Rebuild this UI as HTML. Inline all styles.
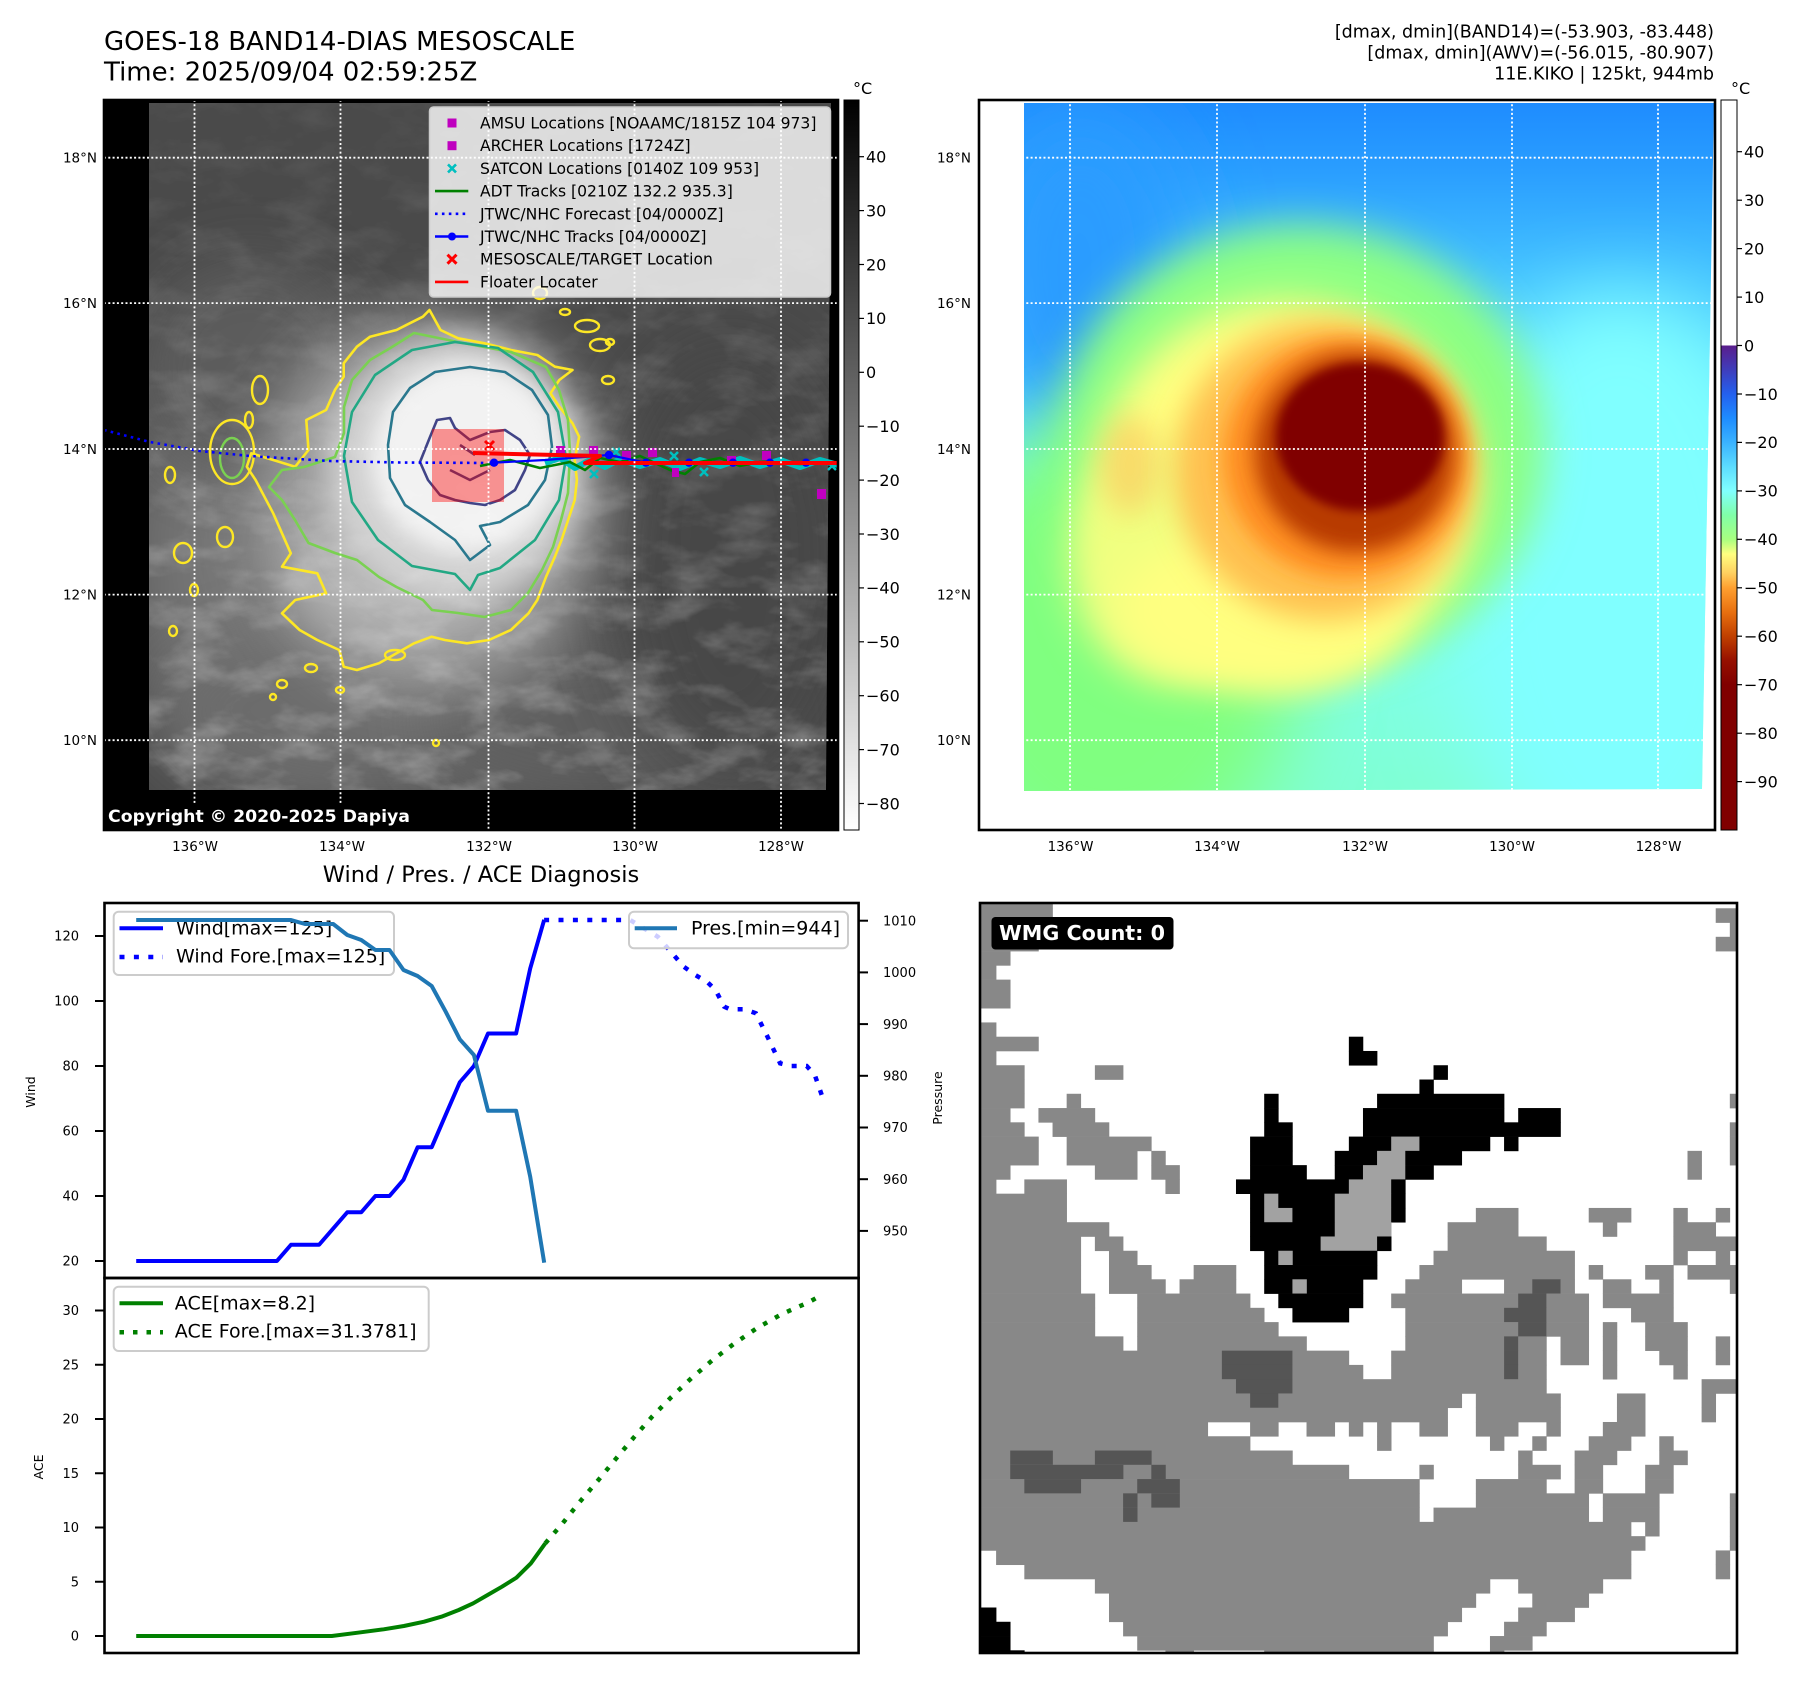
<!DOCTYPE html>
<html><head><meta charset="utf-8">
<style>
html,body{margin:0;padding:0;background:#fff;}
svg{display:block;font-family:"DejaVu Sans","Liberation Sans",sans-serif;}
</style></head><body>
<svg id="s" width="1797" height="1690" viewBox="0 0 1797 1690" xmlns="http://www.w3.org/2000/svg">
<defs>
 <clipPath id="cL"><polygon points="149,103 831,103 826,790 149,790"/></clipPath>
 <clipPath id="cLF"><rect x="104" y="100" width="734" height="730"/></clipPath>
 <clipPath id="cR"><polygon points="1024,103 1714,103 1702,789 1024,791"/></clipPath>
 <clipPath id="cG"><rect x="980" y="903" width="757" height="750"/></clipPath>
 <filter id="b5" x="-1" y="-1" width="3" height="3"><feGaussianBlur stdDeviation="5"/></filter>
 <filter id="b10" x="-1" y="-1" width="3" height="3"><feGaussianBlur stdDeviation="10"/></filter>
 <filter id="b15" x="-1" y="-1" width="3" height="3"><feGaussianBlur stdDeviation="15"/></filter>
 <filter id="b20" x="-1" y="-1" width="3" height="3"><feGaussianBlur stdDeviation="20"/></filter>
 <filter id="b25" x="-1" y="-1" width="3" height="3"><feGaussianBlur stdDeviation="25"/></filter>
 <filter id="b30" x="-1" y="-1" width="3" height="3"><feGaussianBlur stdDeviation="30"/></filter>
 <filter id="b40" x="-1" y="-1" width="3" height="3"><feGaussianBlur stdDeviation="40"/></filter>
 <filter id="tex" x="0" y="0" width="1" height="1">
  <feTurbulence type="fractalNoise" baseFrequency="0.018 0.035" numOctaves="4" seed="7"/>
  <feColorMatrix type="matrix" values="0 0 0 0 1  0 0 0 0 1  0 0 0 0 1  2.2 0 0 0 -0.95"/>
 </filter>
 <linearGradient id="gm" x1="0" y1="0" x2="0" y2="1">
  <stop offset="0" stop-color="#333"/><stop offset="0.35" stop-color="#666"/><stop offset="1" stop-color="#fff"/>
 </linearGradient>
 <mask id="mT" maskUnits="userSpaceOnUse" x="149" y="103" width="682" height="687">
  <rect x="149" y="103" width="682" height="687" fill="url(#gm)"/>
 </mask>
 <linearGradient id="gcL" x1="0" y1="0" x2="0" y2="1">
  <stop offset="0" stop-color="#000"/><stop offset="1" stop-color="#fff"/>
 </linearGradient>
 <linearGradient id="gcR" x1="0" y1="0" x2="0" y2="1">
  <stop offset="0" stop-color="#fff"/><stop offset="0.336" stop-color="#fff"/>
  <stop offset="0.3365" stop-color="#5a1e8c"/>
  <stop offset="0.3695" stop-color="#3f3dbb"/>
  <stop offset="0.4027" stop-color="#2460ee"/>
  <stop offset="0.4359" stop-color="#1e8cff"/>
  <stop offset="0.469" stop-color="#3ab2ff"/>
  <stop offset="0.5023" stop-color="#5cdcff"/>
  <stop offset="0.5355" stop-color="#80ffff"/>
  <stop offset="0.5685" stop-color="#80ffa8"/>
  <stop offset="0.6018" stop-color="#a8ff80"/>
  <stop offset="0.6219" stop-color="#ffff80"/>
  <stop offset="0.6479" stop-color="#ffd060"/>
  <stop offset="0.6682" stop-color="#ffa030"/>
  <stop offset="0.7014" stop-color="#e87010"/>
  <stop offset="0.7345" stop-color="#c04000"/>
  <stop offset="0.7678" stop-color="#961000"/>
  <stop offset="0.801" stop-color="#800000"/>
  <stop offset="1" stop-color="#800000"/>
 </linearGradient>
 <linearGradient id="gR" gradientUnits="userSpaceOnUse" x1="0" y1="103" x2="0" y2="791">
  <stop offset="0" stop-color="#1e8cff"/>
  <stop offset="0.1" stop-color="#2a9eff"/>
  <stop offset="0.25" stop-color="#44c2ff"/>
  <stop offset="0.45" stop-color="#6aeaff"/>
  <stop offset="0.7" stop-color="#7ffff0"/>
  <stop offset="1" stop-color="#80ffd4"/>
 </linearGradient>
</defs>

<!-- ===== Titles ===== -->
<text x="104" y="50" font-size="26" fill="#000">GOES-18 BAND14-DIAS MESOSCALE</text>
<text x="104" y="80.5" font-size="26" fill="#000">Time: 2025/09/04 02:59:25Z</text>
<g font-size="17.5" text-anchor="end" fill="#000">
 <text x="1714" y="37.5">[dmax, dmin](BAND14)=(-53.903, -83.448)</text>
 <text x="1714" y="58.5">[dmax, dmin](AWV)=(-56.015, -80.907)</text>
 <text x="1714" y="79.5">11E.KIKO | 125kt, 944mb</text>
</g>

<!-- ===== Top-left map ===== -->
<rect x="104" y="100" width="734" height="730" fill="#000"/>
<g clip-path="url(#cL)">
 <rect x="149" y="103" width="682" height="687" fill="#4a4a4a"/>
 <ellipse cx="290" cy="560" rx="170" ry="230" fill="#747474" filter="url(#b40)"/>
 <ellipse cx="250" cy="370" rx="110" ry="110" fill="#5c5c5c" filter="url(#b30)"/>
 <ellipse cx="390" cy="710" rx="230" ry="90" fill="#6c6c6c" filter="url(#b30)"/>
 <ellipse cx="600" cy="720" rx="180" ry="80" fill="#5e5e5e" filter="url(#b30)"/>
 <ellipse cx="730" cy="560" rx="120" ry="220" fill="#474747" filter="url(#b40)"/>
 <ellipse cx="430" cy="505" rx="175" ry="190" fill="#9c9c9c" filter="url(#b30)"/>
 <ellipse cx="395" cy="565" rx="95" ry="75" fill="#b4b4b4" filter="url(#b25)"/>
 <ellipse cx="455" cy="470" rx="128" ry="132" fill="#d2d2d2" filter="url(#b15)"/>
 <ellipse cx="466" cy="458" rx="95" ry="95" fill="#f2f2f2" filter="url(#b10)"/>
 <g mask="url(#mT)">
  <rect x="149" y="103" width="682" height="687" filter="url(#tex)" opacity="0.3"/>
 </g>
</g>
<g clip-path="url(#cLF)" fill="none" stroke-linejoin="round">
 <!-- contours -->
 <path stroke="#fde725" stroke-width="2.6" d="M429.5,310 L440.5,330 L458.1,338.3 L484.5,343.3 L510.9,350 L537.3,355 L554.9,366.7 L572.5,370 L559.3,380 L550.5,393.3 L559.3,406.7 L572.5,423.3 L579.1,436.7 L574.7,460 L576.9,480 L574.7,500 L568.1,520 L561.5,540 L554.9,556.7 L546.1,576.7 L537.3,600 L528.5,613.3 L510.9,630 L488.9,640 L466.9,643.3 L444.9,640 L431.7,636.7 L414.1,643.3 L396.5,653.3 L378.9,663.3 L356.9,670 L343.7,666.7 L339.3,650 L317.3,640 L299.6,630 L282,613.3 L295.2,600 L326.1,593.3 L317.3,573.3 L282,566.7 L290.8,553.3 L282,533.3 L273.2,513.3 L264.4,496.7 L255.6,480 L246.8,466.7 L251.2,453.3 L273.2,460 L295.2,466.7 L308.5,450 L306.3,420 L326.1,410 L334.9,390 L343.7,376.7 L343.7,363.3 L356.9,346.7 L370.1,336.7 L396.5,330 L409.7,323.3 L422.9,316.7 Z"/>
 <path stroke="#7ad151" stroke-width="2.6" d="M414,333 L458,342 L511,352 L546,367 L559,390 L568,420 L570,453 L568,493 L561,520 L553,547 L542,570 L528,593 L511,610 L484.5,617 L458,613 L432,610 L423,600 L396.5,587 L379,577 L357,560 L335,553 L308.5,543 L295,520 L282,500 L269,487 L282,470 L304,467 L335,457 L344,433 L344,407 L352,380 L370,360 L392,347 Z"/>
 <path stroke="#22a884" stroke-width="2.6" d="M566,458 L559,500 L535,540 L500,568 L478,575 L470,590 L455,574 L412,566 L378,540 L352,502 L344,456 L352,412 L375,375 L412,350 L455,342 L498,348 L533,372 L558,412 Z"/>
 <path stroke="#2a788e" stroke-width="2.6" d="M552,447 L545,480 L528,505 L500,522 L480,526 L490,545 L470,560 L455,540 L430,522 L405,505 L390,478 L388,445 L393,412 L410,388 L435,372 L470,367 L505,372 L532,390 L548,415 Z"/>
 <path stroke="#414487" stroke-width="2.6" d="M430,437 L437,420 L450,418 L455,428 L470,440 L490,432 L505,430 L520,440 L530,455 L525,470 L515,490 L500,500 L485,505 L470,503 L455,500 L440,495 L428,480 L420,462 Z M450,470 L470,480 L490,470 M460,445 L475,455"/>
 <g stroke="#fde725" stroke-width="2.4">
  <ellipse cx="232" cy="452" rx="22" ry="32"/>
  <ellipse cx="260" cy="390" rx="8" ry="14"/>
  <ellipse cx="249" cy="420" rx="4" ry="8"/>
  <ellipse cx="183" cy="553" rx="9" ry="10"/>
  <ellipse cx="225" cy="537" rx="8" ry="10"/>
  <ellipse cx="540" cy="293" rx="7" ry="6"/>
  <ellipse cx="565" cy="312" rx="5" ry="3"/>
  <ellipse cx="587" cy="326" rx="12" ry="6"/>
  <ellipse cx="610" cy="342" rx="4" ry="3"/>
  <ellipse cx="608" cy="380" rx="6" ry="4"/>
  <ellipse cx="173" cy="631" rx="4" ry="5"/>
  <ellipse cx="282" cy="684" rx="5" ry="4"/>
  <ellipse cx="311" cy="668" rx="6" ry="4"/>
  <ellipse cx="273" cy="697" rx="3" ry="3"/>
  <ellipse cx="194" cy="590" rx="4" ry="6"/>
  <ellipse cx="395" cy="655" rx="10" ry="5"/>
  <ellipse cx="340" cy="690" rx="4" ry="3"/>
  <ellipse cx="436" cy="743" rx="3" ry="3"/>
  <ellipse cx="600" cy="345" rx="10" ry="6"/>
  <ellipse cx="170" cy="475" rx="5" ry="8"/>
 </g>
 <ellipse cx="232" cy="458" rx="12" ry="20" stroke="#7ad151" stroke-width="2.4"/>
 <!-- pink rect -->
 <rect x="432" y="429" width="72" height="73" fill="#ff0000" fill-opacity="0.4" stroke="none"/>
 <!-- forecast dotted -->
 <polyline points="104,430 150,442 200,451 250,456 330,461 400,462.5 494,463" stroke="#0000ff" stroke-width="2.6" stroke-dasharray="2.6 4.3"/>
 <!-- cyan satcon band -->
 <polyline points="545,463 560,458 575,468 590,460 605,467 620,459 640,466 660,460 680,468 700,460 720,466 740,459 760,466 780,460 800,467 820,460 838,465" stroke="#00bfbf" stroke-width="6"/>
 <g stroke="#00bfbf" stroke-width="2.5">
  <path d="M590,470 l8,8 m0,-8 l-8,8 M670,452 l8,8 m0,-8 l-8,8 M700,468 l8,8 m0,-8 l-8,8 M612,448 l8,8 m0,-8 l-8,8 M828,462 l8,8 m0,-8 l-8,8"/>
 </g>
 <!-- green ADT -->
 <polyline points="480,466 510,460 540,468 570,462 585,470 600,458 620,462 640,456 670,470 685,474 700,462 720,458 740,466 760,462 800,464 838,463" stroke="#008000" stroke-width="2.6"/>
 <!-- magenta squares -->
 <g fill="#c000c0" stroke="none">
  <rect x="556" y="446" width="9" height="9"/>
  <rect x="589" y="446" width="9" height="9"/>
  <rect x="622" y="451" width="9" height="9"/>
  <rect x="648" y="448" width="9" height="9"/>
  <rect x="672" y="468" width="7" height="9"/>
  <rect x="727" y="456" width="9" height="9"/>
  <rect x="762" y="451" width="9" height="9"/>
  <rect x="817" y="489" width="9" height="10"/>
 </g>
 <!-- blue track -->
 <polyline points="494,462.7 545,460 609,455 646,462.7 838,462.7" stroke="#0000ff" stroke-width="2.2"/>
 <g fill="#0000ff" stroke="none">
  <circle cx="494" cy="462.7" r="4.2"/><circle cx="609" cy="455" r="4.2"/><circle cx="646" cy="462.7" r="4.2"/>
  <circle cx="689" cy="462.7" r="4.2"/><circle cx="733" cy="462.7" r="4.2"/><circle cx="770" cy="462.7" r="4.2"/><circle cx="806" cy="462.7" r="4.2"/>
 </g>
 <!-- red floater -->
 <polyline points="473,453 600,456 585,463 838,463" stroke="#ff0000" stroke-width="4"/>
 <path d="M485,441 l9,9 m0,-9 l-9,9" stroke="#ff0000" stroke-width="3"/>
 <!-- gridlines -->
 <g stroke="#fff" stroke-width="1.8" stroke-dasharray="2 2.3">
  <line x1="104" y1="157.7" x2="838" y2="157.7"/><line x1="104" y1="303.1" x2="838" y2="303.1"/>
  <line x1="104" y1="449" x2="838" y2="449"/><line x1="104" y1="594.6" x2="838" y2="594.6"/>
  <line x1="104" y1="740.2" x2="838" y2="740.2"/>
  <line x1="194.5" y1="100" x2="194.5" y2="830"/><line x1="340.5" y1="100" x2="340.5" y2="830"/>
  <line x1="488.5" y1="100" x2="488.5" y2="830"/><line x1="634.5" y1="100" x2="634.5" y2="830"/>
  <line x1="781" y1="100" x2="781" y2="830"/>
 </g>
</g>
<!-- map legend -->
<rect x="429.5" y="107" width="401" height="190" rx="4" fill="#fff" fill-opacity="0.8" stroke="#cccccc" stroke-width="1.5"/>
<rect x="447.5" y="118.5" width="9" height="9" fill="#bf00bf"/>
<rect x="447.5" y="141.2" width="9" height="9" fill="#bf00bf"/>
<path d="M448,164.4 l8,8 m0,-8 l-8,8" stroke="#00bfbf" stroke-width="2.6" fill="none"/>
<line x1="435" y1="191.1" x2="468.3" y2="191.1" stroke="#008000" stroke-width="2.6"/>
<line x1="435" y1="213.8" x2="468.3" y2="213.8" stroke="#0000ff" stroke-width="2.6" stroke-dasharray="2.6 4.3"/>
<line x1="435" y1="236.5" x2="468.3" y2="236.5" stroke="#0000ff" stroke-width="2.6"/>
<circle cx="452" cy="236.5" r="4" fill="#0000ff"/>
<path d="M447.5,254.7 l9,9 m0,-9 l-9,9" stroke="#ff0000" stroke-width="3" fill="none"/>
<line x1="435" y1="281.9" x2="468.3" y2="281.9" stroke="#ff0000" stroke-width="2.6"/>
<g font-size="15.6" fill="#000">
 <text x="480" y="128.5">AMSU Locations [NOAAMC/1815Z 104 973]</text>
 <text x="480" y="151.2">ARCHER Locations [1724Z]</text>
 <text x="480" y="173.9">SATCON Locations [0140Z 109 953]</text>
 <text x="480" y="196.6">ADT Tracks [0210Z 132.2 935.3]</text>
 <text x="480" y="219.3">JTWC/NHC Forecast [04/0000Z]</text>
 <text x="480" y="242">JTWC/NHC Tracks [04/0000Z]</text>
 <text x="480" y="264.7">MESOSCALE/TARGET Location</text>
 <text x="480" y="287.4">Floater Locater</text>
</g>
<!-- copyright -->
<rect x="104" y="805" width="310" height="26" rx="3" fill="#000"/>
<text x="108" y="822" font-size="16.5" font-weight="bold" fill="#fff" textLength="302" lengthAdjust="spacingAndGlyphs">Copyright © 2020-2025 Dapiya</text>
<rect x="104" y="100" width="734" height="730" fill="none" stroke="#000" stroke-width="2.6"/>
<!-- left colorbar -->
<rect x="844" y="100" width="15" height="730" fill="url(#gcL)" stroke="#000" stroke-width="1"/>
<text x="853" y="94" font-size="16">°C</text>
<g stroke="#000" stroke-width="1.2">
 <line x1="859" y1="156.7" x2="864" y2="156.7"/><line x1="859" y1="210.6" x2="864" y2="210.6"/><line x1="859" y1="264.5" x2="864" y2="264.5"/>
 <line x1="859" y1="318.4" x2="864" y2="318.4"/><line x1="859" y1="372.3" x2="864" y2="372.3"/><line x1="859" y1="426.2" x2="864" y2="426.2"/>
 <line x1="859" y1="480.1" x2="864" y2="480.1"/><line x1="859" y1="534" x2="864" y2="534"/><line x1="859" y1="587.9" x2="864" y2="587.9"/>
 <line x1="859" y1="641.8" x2="864" y2="641.8"/><line x1="859" y1="695.7" x2="864" y2="695.7"/><line x1="859" y1="749.6" x2="864" y2="749.6"/>
 <line x1="859" y1="803.5" x2="864" y2="803.5"/>
</g>
<g font-size="16" fill="#000">
 <text x="866" y="162.5">40</text><text x="866" y="216.4">30</text><text x="866" y="270.3">20</text><text x="866" y="324.2">10</text>
 <text x="866" y="378.1">0</text><text x="866" y="432">−10</text><text x="866" y="485.9">−20</text><text x="866" y="539.8">−30</text>
 <text x="866" y="593.7">−40</text><text x="866" y="647.6">−50</text><text x="866" y="701.5">−60</text><text x="866" y="755.4">−70</text>
 <text x="866" y="809.3">−80</text>
</g>
<!-- map tick labels -->
<g font-size="13.5" fill="#000" text-anchor="end">
 <text x="97" y="162.5">18°N</text><text x="97" y="308">16°N</text><text x="97" y="453.8">14°N</text><text x="97" y="599.4">12°N</text><text x="97" y="745">10°N</text>
 <text x="971" y="162.5">18°N</text><text x="971" y="308">16°N</text><text x="971" y="453.8">14°N</text><text x="971" y="599.4">12°N</text><text x="971" y="745">10°N</text>
</g>
<g font-size="13.5" fill="#000" text-anchor="middle">
 <text x="195" y="851">136°W</text><text x="342" y="851">134°W</text><text x="489" y="851">132°W</text><text x="635" y="851">130°W</text><text x="781" y="851">128°W</text>
 <text x="1070.5" y="851">136°W</text><text x="1217" y="851">134°W</text><text x="1365" y="851">132°W</text><text x="1512" y="851">130°W</text><text x="1658.5" y="851">128°W</text>
</g>

<!-- ===== Top-right map ===== -->
<g clip-path="url(#cR)">
 <rect x="1024" y="103" width="691" height="688" fill="url(#gR)"/>
 <ellipse cx="1080" cy="270" rx="110" ry="170" fill="#2a9cff" filter="url(#b40)"/>
 <ellipse cx="1110" cy="650" rx="190" ry="230" fill="#80ff80" filter="url(#b40)"/>
 <ellipse cx="1620" cy="590" rx="170" ry="300" fill="#80ffff" filter="url(#b40)"/>
 <ellipse cx="1300" cy="450" rx="245" ry="225" fill="#8cff84" filter="url(#b20)"/>
 <ellipse cx="1285" cy="490" rx="190" ry="190" fill="#ffff80" filter="url(#b20)"/>
 <ellipse cx="1170" cy="560" rx="100" ry="120" fill="#f0ff80" filter="url(#b20)"/>
 <ellipse cx="1260" cy="610" rx="140" ry="80" fill="#ffff80" filter="url(#b20)"/>
 <ellipse cx="1130" cy="465" rx="30" ry="50" fill="#ffb050" filter="url(#b15)" opacity="0.45"/>
 <ellipse cx="1325" cy="470" rx="150" ry="150" fill="#ffc050" filter="url(#b15)"/>
 <ellipse cx="1345" cy="458" rx="122" ry="120" fill="#ff9020" filter="url(#b10)"/>
 <ellipse cx="1355" cy="452" rx="100" ry="100" fill="#b83a00" filter="url(#b10)"/>
 <ellipse cx="1360" cy="437" rx="84" ry="74" fill="#800000" filter="url(#b5)"/>
 <g stroke="#fff" stroke-width="1.8" stroke-dasharray="2 2.3">
  <line x1="979" y1="157.7" x2="1715" y2="157.7"/><line x1="979" y1="303.1" x2="1715" y2="303.1"/>
  <line x1="979" y1="449" x2="1715" y2="449"/><line x1="979" y1="594.6" x2="1715" y2="594.6"/>
  <line x1="979" y1="740.2" x2="1715" y2="740.2"/>
  <line x1="1070" y1="100" x2="1070" y2="830"/><line x1="1217" y1="100" x2="1217" y2="830"/>
  <line x1="1365" y1="100" x2="1365" y2="830"/><line x1="1512" y1="100" x2="1512" y2="830"/>
  <line x1="1658" y1="100" x2="1658" y2="830"/>
 </g>
</g>
<rect x="979" y="100" width="736" height="730" fill="none" stroke="#000" stroke-width="2.6"/>
<!-- right colorbar -->
<rect x="1721" y="100" width="16" height="730" fill="url(#gcR)" stroke="#000" stroke-width="1"/>
<text x="1731" y="94" font-size="16">°C</text>
<g stroke="#000" stroke-width="1.2">
 <line x1="1737" y1="151.7" x2="1742" y2="151.7"/><line x1="1737" y1="200.2" x2="1742" y2="200.2"/><line x1="1737" y1="248.6" x2="1742" y2="248.6"/>
 <line x1="1737" y1="297.1" x2="1742" y2="297.1"/><line x1="1737" y1="345.5" x2="1742" y2="345.5"/><line x1="1737" y1="394" x2="1742" y2="394"/>
 <line x1="1737" y1="442.4" x2="1742" y2="442.4"/><line x1="1737" y1="490.9" x2="1742" y2="490.9"/><line x1="1737" y1="539.3" x2="1742" y2="539.3"/>
 <line x1="1737" y1="587.8" x2="1742" y2="587.8"/><line x1="1737" y1="636.2" x2="1742" y2="636.2"/><line x1="1737" y1="684.7" x2="1742" y2="684.7"/>
 <line x1="1737" y1="733.2" x2="1742" y2="733.2"/><line x1="1737" y1="781.6" x2="1742" y2="781.6"/>
</g>
<g font-size="16" fill="#000">
 <text x="1744" y="157.5">40</text><text x="1744" y="206">30</text><text x="1744" y="254.4">20</text><text x="1744" y="302.9">10</text>
 <text x="1744" y="351.3">0</text><text x="1744" y="399.8">−10</text><text x="1744" y="448.2">−20</text><text x="1744" y="496.7">−30</text>
 <text x="1744" y="545.1">−40</text><text x="1744" y="593.6">−50</text><text x="1744" y="642">−60</text><text x="1744" y="690.5">−70</text>
 <text x="1744" y="739">−80</text><text x="1744" y="787.4">−90</text>
</g>

<!-- ===== Bottom-left: Wind / Pres / ACE ===== -->
<text x="481" y="882" font-size="22.5" text-anchor="middle" fill="#000">Wind / Pres. / ACE Diagnosis</text>
<polyline fill="none" stroke="#0000ff" stroke-width="4" stroke-linejoin="round" points="136.2,1261 276.9,1261 291.0,1244.75 319.1,1244.75 333.2,1228.5 347.3,1212.25 361.3,1212.25 375.4,1196 389.5,1196 403.5,1179.75 417.6,1147.25 431.7,1147.25 445.7,1114.75 459.8,1082.25 473.9,1066 488.0,1033.5 516.1,1033.5 530.2,968.5 544.2,919.75"/>
<polyline fill="none" stroke="#0000ff" stroke-width="4.5" stroke-dasharray="5 9.4" points="544.1,920 630.1,920 657.8,936.7 672.2,953.3 683.8,966.7 695.3,975 706.9,981.7 715.5,990 724.2,1006.7 729.9,1009.3 744.4,1009.3 755.9,1013.3 767.5,1036.7 780.1,1063.3 790.5,1066 806.7,1066 814.8,1075 822.3,1096.7"/>
<rect x="113.7" y="911.7" width="280.3" height="63.3" rx="5" fill="#fff" fill-opacity="0.8" stroke="#cccccc" stroke-width="2"/>
<line x1="119.5" y1="928.3" x2="163" y2="928.3" stroke="#0000ff" stroke-width="4"/>
<line x1="119.5" y1="957" x2="163" y2="957" stroke="#0000ff" stroke-width="4.5" stroke-dasharray="5 9.4"/>
<text x="176" y="934.5" font-size="19" fill="#000">Wind[max=125]</text>
<text x="176" y="962.5" font-size="19" fill="#000">Wind Fore.[max=125]</text>
<polyline fill="none" stroke="#1f77b4" stroke-width="4" stroke-linejoin="round" points="136.2,920 291.0,920 305.0,924 333.2,924 347.3,935 361.3,940 375.4,950 389.5,950 403.5,970 417.6,976 431.7,986 445.7,1011.7 459.8,1039.3 473.9,1055 488.0,1110.7 516.1,1110.7 530.2,1176.7 544.2,1262.7"/>
<rect x="629" y="911.7" width="219" height="36.6" rx="5" fill="#fff" fill-opacity="0.8" stroke="#cccccc" stroke-width="2"/>
<line x1="634.7" y1="928.3" x2="677" y2="928.3" stroke="#1f77b4" stroke-width="4"/>
<text x="691" y="934.5" font-size="19" fill="#000">Pres.[min=944]</text>
<polyline fill="none" stroke="#008000" stroke-width="4" stroke-linejoin="round" points="136.2,1636 331.8,1636 357.8,1632.7 383.7,1629.3 403.9,1626 424.1,1621.7 441.4,1616.7 458.7,1610 473.2,1603.3 487.6,1595 502,1586.7 516.4,1577.7 530.9,1563.3 545.3,1543.3"/>
<polyline fill="none" stroke="#008000" stroke-width="4.5" stroke-dasharray="4.5 9" points="545.3,1543.3 562.6,1523.3 579.9,1501.7 598.4,1480 615.7,1459 633.6,1437.7 652.1,1416.7 671.1,1397.3 691.3,1378.3 712.6,1360 734.6,1343.3 757.6,1327.7 781.9,1314 807.8,1302.7 820.5,1295.7"/>
<rect x="113.7" y="1286.7" width="315" height="64.3" rx="5" fill="#fff" fill-opacity="0.8" stroke="#cccccc" stroke-width="2"/>
<line x1="119.5" y1="1303.3" x2="163" y2="1303.3" stroke="#008000" stroke-width="4"/>
<line x1="119.5" y1="1332.3" x2="163" y2="1332.3" stroke="#008000" stroke-width="4.5" stroke-dasharray="4.5 9"/>
<text x="174.8" y="1309.5" font-size="19" fill="#000">ACE[max=8.2]</text>
<text x="174.8" y="1337.5" font-size="19" fill="#000">ACE Fore.[max=31.3781]</text>
<rect x="104.5" y="903" width="754.1" height="375" fill="none" stroke="#000" stroke-width="2.6"/>
<rect x="104.5" y="1278" width="754.1" height="375" fill="none" stroke="#000" stroke-width="2.6"/>
<g stroke="#000" stroke-width="2">
 <line x1="95" y1="1261" x2="104.5" y2="1261"/><line x1="95" y1="1196" x2="104.5" y2="1196"/><line x1="95" y1="1131" x2="104.5" y2="1131"/>
 <line x1="95" y1="1066" x2="104.5" y2="1066"/><line x1="95" y1="1001" x2="104.5" y2="1001"/><line x1="95" y1="936" x2="104.5" y2="936"/>
 <line x1="858.6" y1="920.7" x2="868" y2="920.7"/><line x1="858.6" y1="972.4" x2="868" y2="972.4"/><line x1="858.6" y1="1024.1" x2="868" y2="1024.1"/>
 <line x1="858.6" y1="1075.8" x2="868" y2="1075.8"/><line x1="858.6" y1="1127.5" x2="868" y2="1127.5"/><line x1="858.6" y1="1179.2" x2="868" y2="1179.2"/>
 <line x1="858.6" y1="1230.9" x2="868" y2="1230.9"/>
 <line x1="95" y1="1636" x2="104.5" y2="1636"/><line x1="95" y1="1581.75" x2="104.5" y2="1581.75"/><line x1="95" y1="1527.5" x2="104.5" y2="1527.5"/>
 <line x1="95" y1="1473.25" x2="104.5" y2="1473.25"/><line x1="95" y1="1419" x2="104.5" y2="1419"/><line x1="95" y1="1364.75" x2="104.5" y2="1364.75"/>
 <line x1="95" y1="1310.5" x2="104.5" y2="1310.5"/>
</g>
<g font-size="13" fill="#000" text-anchor="end">
 <text x="79" y="1265.7">20</text><text x="79" y="1200.7">40</text><text x="79" y="1135.7">60</text>
 <text x="79" y="1070.7">80</text><text x="79" y="1005.7">100</text><text x="79" y="940.7">120</text>
 <text x="79" y="1640.7">0</text><text x="79" y="1586.4">5</text><text x="79" y="1532.2">10</text>
 <text x="79" y="1477.9">15</text><text x="79" y="1423.7">20</text><text x="79" y="1369.4">25</text><text x="79" y="1315.2">30</text>
</g>
<g font-size="13" fill="#000">
 <text x="883" y="925.4">1010</text><text x="883" y="977.1">1000</text><text x="883" y="1028.8">990</text>
 <text x="883" y="1080.5">980</text><text x="883" y="1132.2">970</text><text x="883" y="1183.9">960</text><text x="883" y="1235.6">950</text>
</g>
<text transform="translate(35,1092) rotate(-90)" font-size="12.5" text-anchor="middle" fill="#000">Wind</text>
<text transform="translate(942,1098) rotate(-90)" font-size="12.5" text-anchor="middle" fill="#000">Pressure</text>
<text transform="translate(43,1467) rotate(-90)" font-size="12.5" text-anchor="middle" fill="#000">ACE</text>

<!-- ===== Bottom-right: WMG grid ===== -->
<g id="grid" clip-path="url(#cG)"></g>
<rect x="980" y="903" width="757" height="750" fill="none" stroke="#000" stroke-width="2.6"/>
<rect x="991.5" y="917" width="182" height="32.5" rx="4" fill="#000"/>
<text x="999" y="940" font-size="20" font-weight="bold" fill="#fff" textLength="166" lengthAdjust="spacingAndGlyphs">WMG Count: 0</text>
</svg>
<script>
(function(){
var R=[
"g0-4","g0-4 g52-53","g0-3 g53","g0-3 g52-53","g0-1","g0","g0-1","g0-1","","g0",
"g0-3 k26","g0 k26-27","g0-2 g8-9 k32","g0-2 k31",
"g0-2 g6 k20 k28-36 g53",
"g0-1 g4-7 k20 k27-36 k38-40",
"g0-2 g5-8 k20-21 k27-40 g53",
"g0-3 g6-11 k19-21 k26-28 l29-30 k31-35 k37 g53",
"g0-3 g6-10 g12 k19-21 k25-27 l28-29 k30-33 g50 g53",
"g0-1 g8-10 g12-13 k19-22 k25-26 l27-29 k30-31 g50",
"g0 g3-5 g13 k18-25 l26-28 k29",
"g0-5 k19 l20 k21-24 l25-28 k29",
"g0-5 k19 l20-21 k22-24 l25-28 k29 g35-37 g43-45 g49 g52",
"g0-8 k19-24 l25-28 g33-37 g44 g49-51",
"g0-6 g8-9 k19-23 l24-27 k28 g33-39 g49-53",
"g0-6 g9-10 k20-27 l21 g32-41 g49 g52",
"g0-6 g9-11 g15-17 k20-27 g31-41 g43 g47-48 g50-53",
"g0-6 g9-12 g14-17 k20-26 l22 g30-33 g37-38 d39-40 g41 g44-45 g48 g53",
"g0-7 g11-18 k21-26 g29-37 d38-39 g40-42 g44-48",
"g0-7 g11-19 k22-25 g30-36 d37-39 g40-42 g46-48",
"g0-7 g11-20 g30-37 d38-39 g40-42 g44 g47-49",
"g0-9 g11-22 g30-36 d37 g38-39 g41-42 g44 g47-49 g52",
"g0-16 d17-21 g22-25 g29-36 d37 g38-39 g41-42 g44 g48-49 g52",
"g0-16 d17-21 g22-26 g29-36 d37 g38-39 g44 g49",
"g0-17 d18-21 g22-39 g51-53",
"g0-18 d19-20 g21-33 g35-40 g45-46 g51",
"g0-32 g35-40 g45-46 g51",
"g0-15 g19-20 g23-24 g26 g28 g31-32 g35-37 g40 g44-46",
"g0-18 g28 g36 g39 g43-45 g48",
"g0-21 d2-4 d8-11 g38 g42-44 g48-49",
"g0-25 d2-9 d12 g31 g38-40 g42-43 g47-48",
"g0-30 d3-6 d11-13 g35-39 g42-43 g47-48",
"g0-30 d10 d12-13 g35-42 g44-47 g53",
"g0-30 d10 g32-42 g44-47 g53",
"g0-45 g47 g53",
"g0-46 g53",
"g1-45 g52",
"g3-45 g52",
"g8-35 g38-43",
"g9-34 g39-42",
"k0 g9-33 g38-41",
"k0-1 g10-32 g37-39",
"k0-1 g11-31 g36-38",
"k0-2 g13-14 g20-31 g36"
];
var C={g:'#888888',d:'#555555',k:'#000000',l:'#a2a2a2'};
var g=document.getElementById('grid');
var NS='http://www.w3.org/2000/svg';
var bg=document.createElementNS(NS,'rect');
bg.setAttribute('x','980');bg.setAttribute('y','903');bg.setAttribute('width','757');bg.setAttribute('height','750');bg.setAttribute('fill','#fff');
g.appendChild(bg);
for(var j=0;j<R.length;j++){
 var toks=R[j].split(' ');
 for(var t=0;t<toks.length;t++){
  var s=toks[t]; if(!s) continue;
  var c=s.charAt(0); var m=s.slice(1).split('-');
  var a=+m[0], b=(m.length>1)?+m[1]:a;
  var x0=(a===0)?975:982+14.11*a;
  var x1=982+14.11*(b+1);
  if(b>=53) x1=1745;
  var y0=894+14.27*j;
  var r=document.createElementNS(NS,'rect');
  r.setAttribute('x',x0.toFixed(2));
  r.setAttribute('y',y0.toFixed(2));
  r.setAttribute('width',(x1-x0+0.3).toFixed(2));
  r.setAttribute('height','14.6');
  r.setAttribute('fill',C[c]);
  g.appendChild(r);
 }
}
})();
</script>
</body></html>
